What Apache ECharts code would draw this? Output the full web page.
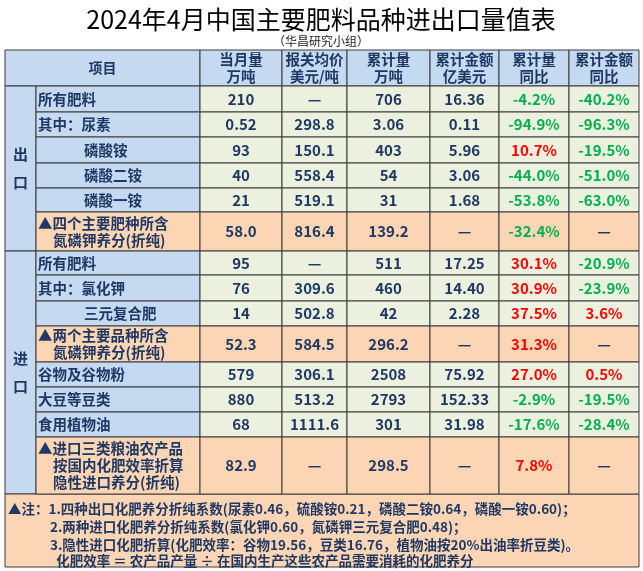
<!DOCTYPE html>
<html><head><meta charset="utf-8">
<script src="https://cdn.jsdelivr.net/npm/echarts@6/dist/echarts.min.js"></script>
<style>html,body{margin:0;padding:0;background:#fff}#c{width:643px;height:571px}</style>
</head><body><div id="c"></div>
<script>
const title = '2024年4月中国主要肥料品种进出口量值表';
const subtitle = '（华昌研究小组）';
const headers = ['项目', '当月量\n万吨', '报关均价\n美元/吨', '累计量\n万吨', '累计金额\n亿美元', '累计量\n同比', '累计金额\n同比'];
const sections = ['出\n\n口', '进\n\n口'];
const labels = ['所有肥料', '其中：尿素', '磷酸铵', '磷酸二铵', '磷酸一铵', '▲四个主要肥种所含\n氮磷钾养分(折纯)',
  '所有肥料', '其中：氯化钾', '三元复合肥', '▲两个主要品种所含\n氮磷钾养分(折纯)', '谷物及谷物粉', '大豆等豆类', '食用植物油',
  '▲进口三类粮油农产品\n按国内化肥效率折算\n隐性进口养分(折纯)'];
const monthQty = ['210', '0.52', '93', '40', '21', '58.0', '95', '76', '14', '52.3', '579', '880', '68', '82.9'];
const avgPrice = ['—', '298.8', '150.1', '558.4', '519.1', '816.4', '—', '309.6', '502.8', '584.5', '306.1', '513.2', '1111.6', '—'];
const cumQty = ['706', '3.06', '403', '54', '31', '139.2', '511', '460', '42', '296.2', '2508', '2793', '301', '298.5'];
const cumAmt = ['16.36', '0.11', '5.96', '3.06', '1.68', '—', '17.25', '14.40', '2.28', '—', '75.92', '152.33', '31.98', '—'];
const qtyYoY = ['-4.2%', '-94.9%', '10.7%', '-44.0%', '-53.8%', '-32.4%', '30.1%', '30.9%', '37.5%', '31.3%', '27.0%', '-2.9%', '-17.6%', '7.8%'];
const amtYoY = ['-40.2%', '-96.3%', '-19.5%', '-51.0%', '-63.0%', '—', '-20.9%', '-23.9%', '3.6%', '—', '0.5%', '-19.5%', '-28.4%', '—'];
const notes = ['▲注：1.四种出口化肥养分折纯系数(尿素0.46，硫酸铵0.21，磷酸二铵0.64，磷酸一铵0.60)；',
  '2.两种进口化肥养分折纯系数(氯化钾0.60，氮磷钾三元复合肥0.48)；',
  '3.隐性进口化肥折算(化肥效率：谷物19.56，豆类16.76，植物油按20%出油率折豆类)。',
  '  化肥效率 ＝ 农产品产量 ÷ 在国内生产这些农产品需要消耗的化肥养分'];

// layout
const X = [5, 36, 200, 282, 347, 430, 499, 569, 639];
const Y = [50, 86, 112, 137, 163, 188, 212, 251, 275, 301, 326, 362, 387, 412, 437, 494, 567];
const orangeRows = [5, 9, 13];
const indentRows = [2, 3, 4, 8];
const sectionRows = [[0, 5], [6, 13]];
const C = {blue: '#c5d9f1', green: '#ebf1de', orange: '#fcd5b4', text: '#1f3864', red: '#ff0000', grn: '#00b050', line: '#3a3a3a'};
const FONT = '"Noto Sans CJK SC", sans-serif';

const rows = labels.map((l, i) => [i, l, monthQty[i], avgPrice[i], cumQty[i], cumAmt[i], qtyYoY[i], amtYoY[i]]);

function rect(x, y, w, h, fill) {
  return {type: 'rect', shape: {x, y, width: w, height: h}, style: {fill, stroke: C.line, lineWidth: 1}};
}
function txt(x, y, s, opt) {
  return {type: 'text', style: Object.assign({x, y, text: s, fontFamily: FONT, fontSize: 15, fontWeight: 'bold', fill: C.text, align: 'center', verticalAlign: 'middle', lineHeight: 19}, opt || {})};
}
function pctColor(s) { return s.startsWith('-') ? C.grn : (s === '—' ? C.text : C.red); }

function renderRow(params, api) {
  const i = api.value(0);
  const r = rows[i];
  const y0 = Y[i + 1], y1 = Y[i + 2], h = y1 - y0, cy = (y0 + y1) / 2;
  const orange = orangeRows.includes(i);
  const ch = [];
  ch.push(rect(X[1], y0, X[2] - X[1], h, orange ? C.orange : C.blue));
  const lines = r[1].split('\n');
  const lh = 17;
  lines.forEach((ln, k) => {
    const ind = indentRows.includes(i) ? 46 : (k > 0 ? 15 : 0);
    ch.push(txt(X[1] + 2 + ind, cy + (k - (lines.length - 1) / 2) * lh, ln, {align: 'left', fontSize: 14.5}));
  });
  for (let c = 0; c < 6; c++) {
    const s = r[c + 2];
    ch.push(rect(X[c + 2], y0, X[c + 3] - X[c + 2], h, orange ? C.orange : C.green));
    ch.push(txt((X[c + 2] + X[c + 3]) / 2, cy, s, {fill: c >= 4 ? pctColor(s) : C.text}));
  }
  return {type: 'group', children: ch};
}

function renderStatic() {
  const ch = [];
  ch.push(txt(321, 19, title, {fontSize: 25, fill: '#000', fontWeight: 'normal'}));
  ch.push(txt(321, 41, subtitle, {fontSize: 12, fill: '#222', fontWeight: 'normal'}));
  ch.push(rect(X[0], Y[0], X[2] - X[0], Y[1] - Y[0], C.blue));
  ch.push(txt((X[0] + X[2]) / 2, (Y[0] + Y[1]) / 2, headers[0], {fontSize: 14}));
  for (let c = 1; c < 7; c++) {
    ch.push(rect(X[c + 1], Y[0], X[c + 2] - X[c + 1], Y[1] - Y[0], C.blue));
    ch.push(txt((X[c + 1] + X[c + 2]) / 2, (Y[0] + Y[1]) / 2, headers[c], {fontSize: 14.5, lineHeight: 17}));
  }
  sectionRows.forEach(([a, b], k) => {
    const y0 = Y[a + 1], y1 = Y[b + 2];
    ch.push(rect(X[0], y0, X[1] - X[0], y1 - y0, C.blue));
    ch.push(txt((X[0] + X[1]) / 2, (y0 + y1) / 2, sections[k], {fontSize: 15, lineHeight: 14}));
  });
  const ny0 = Y[15], ny1 = Y[16];
  ch.push(rect(X[0], ny0, X[8] - X[0], ny1 - ny0, C.orange));
  const nys = [509, 527, 545, 561];
  notes.forEach((n, k) => {
    ch.push(txt(k === 0 ? 8 : 50, nys[k], n, {align: 'left', fontSize: 13.5}));
  });
  return {type: 'group', children: ch};
}

const chart = echarts.init(document.getElementById('c'));
chart.setOption({
  animation: false,
  series: [
    {type: 'custom', coordinateSystem: 'none', data: [[0]], renderItem: () => renderStatic(), z: 1},
    {type: 'custom', coordinateSystem: 'none', data: rows.map(r => [r[0]]), renderItem: renderRow, z: 2}
  ]
});
</script></body></html>
